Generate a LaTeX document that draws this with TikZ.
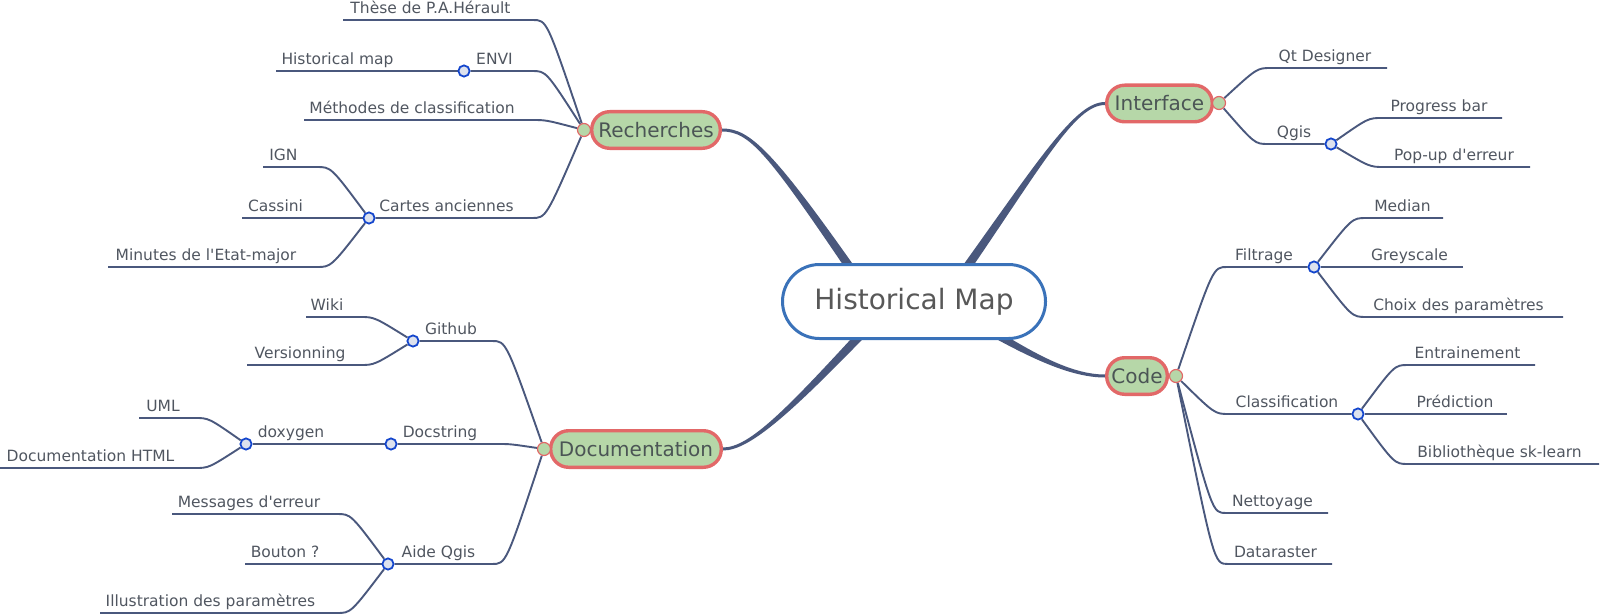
\documentclass[tikz,border=0pt]{standalone}
\usepackage{fontspec}
\setmainfont{DejaVu Sans}
\usetikzlibrary{calc,backgrounds}
\definecolor{lnc}{RGB}{74,88,125}
\definecolor{tbord}{RGB}{226,104,104}
\definecolor{tfill}{RGB}{182,215,168}
\definecolor{ttext}{RGB}{75,85,85}
\definecolor{cbord}{RGB}{58,114,185}
\definecolor{ctext}{RGB}{88,88,88}
\definecolor{ltext}{RGB}{80,86,96}
\definecolor{dbord}{RGB}{20,70,205}
\definecolor{dfill}{RGB}{221,226,238}
\tikzset{
  lbl/.style={font=\fontsize{7.75}{9}\selectfont, text=ltext, inner sep=0pt, anchor=base},
  topic/.style={draw=tbord, fill=tfill, line width=1.7pt, rounded corners=9pt, minimum height=18.3pt, inner sep=0pt, text=ttext, font=\fontsize{10}{12}\selectfont},
  rootbox/.style={draw=cbord, fill=white, line width=1.5pt, rounded corners=18.5pt, minimum width=131.5pt, minimum height=37pt, inner sep=0pt, text=ctext, font=\fontsize{14}{16}\selectfont},
  sdot/.style={circle, draw=dbord, fill=dfill, line width=0.9pt, minimum size=5.6pt, inner sep=0pt},
  tdot/.style={circle, draw=tbord, fill=tfill, line width=0.6pt, minimum size=6.5pt, inner sep=0pt},
  lnk/.style={draw=lnc, line width=0.95pt},
  sub/.style={to path={.. controls ($(\tikztostart)!0.27!(\tikztotarget|-\tikztostart)$) .. (\tikztotarget)}},
}
\begin{document}
\begin{tikzpicture}[x=0.5pt,y=-0.5pt]
\useasboundingbox (0,0) rectangle (1600,615);
% root and topics
\node[rootbox] (hm) at (914,301.5) {Historical Map};
\node[topic, minimum width=64.3pt] (rech) at (656,130) {Recherches};
\node[topic, minimum width=52.8pt] (int) at (1159.5,103.5) {Interface};
\node[topic, minimum width=30.3pt] (code) at (1137,376) {Code};
\node[topic, minimum width=85.3pt] (doc) at (636,449) {Documentation};
\node[tdot] (rdot) at (584,130) {};
\node[tdot] (ddot) at (544,449) {};
\node[tdot] (idot) at (1219,103) {};
\node[tdot] (kdot) at (1176,376) {};
% sub dots
\node[sdot] (envdot) at (464,71) {};
\node[sdot] (cdot) at (369,218) {};
\node[sdot] (gdot) at (413,341) {};
\node[sdot] (dsdot) at (391,444) {};
\node[sdot] (dxdot) at (246,444) {};
\node[sdot] (adot) at (388,564) {};
\node[sdot] (qdot) at (1331,144) {};
\node[sdot] (fdot) at (1314,267) {};
\node[sdot] (cldot) at (1358,414) {};
% labels: Recherches
\node[lbl] (tThese) at (430.5,13.5) {Thèse de P.A.Hérault};
\node[lbl] (tEnvi) at (494.5,64.5) {ENVI};
\node[lbl] (tHmap) at (337.5,64.5) {Historical map};
\node[lbl] (tMeth) at (412,113.5) {Méthodes de classification};
\node[lbl] (tCartes) at (446.5,211.5) {Cartes anciennes};
\node[lbl] (tIgn) at (283.5,160.5) {IGN};
\node[lbl] (tCassini) at (275.5,211.5) {Cassini};
\node[lbl] (tMinutes) at (206,260.5) {Minutes de l\textquotesingle Etat-major};
% labels: Documentation
\node[lbl] (tGithub) at (451,334.5) {Github};
\node[lbl] (tWiki) at (327,310.5) {Wiki};
\node[lbl] (tVers) at (300,358.5) {Versionning};
\node[lbl] (tDocstr) at (440,437.5) {Docstring};
\node[lbl] (tDoxy) at (291,437.5) {doxygen};
\node[lbl] (tUml) at (163,411.5) {UML};
\node[lbl] (tDochtml) at (90.5,461.5) {Documentation HTML};
\node[lbl] (tAide) at (438.5,557.5) {Aide Qgis};
\node[lbl] (tMsg) at (249,507.5) {Messages d\textquotesingle erreur};
\node[lbl] (tBouton) at (285,557.5) {Bouton ?};
\node[lbl] (tIllus) at (210.5,606.5) {Illustration des paramètres};
% labels: Interface
\node[lbl] (tQt) at (1325,61.5) {Qt Designer};
\node[lbl] (tQgis) at (1294,137.5) {Qgis};
\node[lbl] (tProg) at (1439,111.5) {Progress bar};
\node[lbl] (tPopup) at (1454,160.5) {Pop-up d\textquotesingle erreur};
% labels: Code
\node[lbl] (tFilt) at (1264,260.5) {Filtrage};
\node[lbl] (tMedian) at (1402.5,211.5) {Median};
\node[lbl] (tGrey) at (1409.5,260.5) {Greyscale};
\node[lbl] (tChoix) at (1458.5,310.5) {Choix des paramètres};
\node[lbl] (tClass) at (1287,407.5) {Classification};
\node[lbl] (tEntr) at (1467.5,358.5) {Entrainement};
\node[lbl] (tPred) at (1455,407.5) {Prédiction};
\node[lbl] (tBiblio) at (1499.5,457.5) {Bibliothèque sk-learn};
\node[lbl] (tNett) at (1272.5,506.5) {Nettoyage};
\node[lbl] (tData) at (1275.5,557.5) {Dataraster};
% line end points
\coordinate (theseL) at (343,20); \coordinate (theseR) at (533,20);
\coordinate (hmapL) at (276,71); \coordinate (enviR) at (532,71);
\coordinate (methL) at (304,120); \coordinate (methR) at (532,120);
\coordinate (cartesR) at (532,218);
\coordinate (ignL) at (263,167); \coordinate (ignR) at (317,167);
\coordinate (cassL) at (242,218);
\coordinate (minL) at (108,267); \coordinate (minR) at (317,267);
\coordinate (githubR) at (492,341);
\coordinate (wikiL) at (306,317); \coordinate (wikiR) at (360,317);
\coordinate (versL) at (247,365); \coordinate (versR) at (360,365);
\coordinate (docstrR) at (498,444);
\coordinate (umlL) at (139,418); \coordinate (umlR) at (195,418);
\coordinate (htmlL) at (0,468); \coordinate (htmlR) at (195,468);
\coordinate (aideR) at (492,564);
\coordinate (msgL) at (172,514); \coordinate (msgR) at (337,514);
\coordinate (boutL) at (245,564);
\coordinate (illL) at (100,613); \coordinate (illR) at (337,613);
\coordinate (qtL) at (1271,68); \coordinate (qtR) at (1387,68);
\coordinate (qgisL) at (1268,144);
\coordinate (progL) at (1382,118); \coordinate (progR) at (1502,118);
\coordinate (popL) at (1384,167); \coordinate (popR) at (1530,167);
\coordinate (filtL) at (1227,267);
\coordinate (medL) at (1366,218); \coordinate (medR) at (1443,218);
\coordinate (greyR) at (1463,267);
\coordinate (choixL) at (1366,317); \coordinate (choixR) at (1563,317);
\coordinate (classL) at (1229,414);
\coordinate (entrL) at (1408,365); \coordinate (entrR) at (1535,365);
\coordinate (predR) at (1507,414);
\coordinate (bibL) at (1408,464); \coordinate (bibR) at (1599,464);
\coordinate (nettL) at (1226,513); \coordinate (nettR) at (1328,513);
\coordinate (dataL) at (1228,564); \coordinate (dataR) at (1332,564);
\begin{scope}[on background layer]
% main tapered branches
\fill[lnc] ($(rech.east)+(0,1.5)$) .. controls ($(rech.east)+(28,1.5)$) and ($(rech.east)+(45.5,22.7)$) .. ($(hm.center)+(-55.7,-14)$) -- ($(hm.center)+(-48.3,-19)$) .. controls ($(rech.east)+(50.5,19.3)$) and ($(rech.east)+(28,-1.5)$) .. ($(rech.east)+(0,-1.5)$) -- cycle;
\fill[lnc] ($(int.west)+(0,-1.5)$) .. controls ($(int.west)+(-30,-1.5)$) and ($(int.west)+(-65.5,55.3)$) .. ($(hm.center)+(40.3,-24.1)$) -- ($(hm.center)+(47.7,-18.9)$) .. controls ($(int.west)+(-60.5,58.7)$) and ($(int.west)+(-30,1.5)$) .. ($(int.west)+(0,1.5)$) -- cycle;
\fill[lnc] ($(code.west)+(0,-1.5)$) .. controls ($(code.west)+(-35,-1.5)$) and ($(code.west)+(-73.5,-23.6)$) .. ($(hm.center)+(63.3,16.6)$) -- ($(hm.center)+(58.7,24.4)$) .. controls ($(code.west)+(-76.5,-18.4)$) and ($(code.west)+(-35,1.5)$) .. ($(code.west)+(0,1.5)$) -- cycle;
\fill[lnc] ($(doc.east)+(0,1.5)$) .. controls ($(doc.east)+(27,1.5)$) and ($(doc.east)+(69.2,-36.9)$) .. ($(hm.center)+(-40.7,26.6)$) -- ($(hm.center)+(-47.3,20.4)$) .. controls ($(doc.east)+(64.8,-41.1)$) and ($(doc.east)+(27,-1.5)$) .. ($(doc.east)+(0,-1.5)$) -- cycle;
% Recherches
\draw[lnk] (theseL) -- (theseR) to[sub] (rdot);
\draw[lnk] (hmapL) -- (envdot);
\draw[lnk] (envdot) -- (enviR) to[sub] (rdot);
\draw[lnk] (methL) -- (methR) to[sub] (rdot);
\draw[lnk] (cdot) -- (cartesR) to[sub] (rdot);
\draw[lnk] (ignL) -- (ignR) to[sub] (cdot);
\draw[lnk] (cassL) -- (cdot);
\draw[lnk] (minL) -- (minR) to[sub] (cdot);
% Documentation
\draw[lnk] (gdot) -- (githubR) to[sub] (ddot);
\draw[lnk] (wikiL) -- (wikiR) to[sub] (gdot);
\draw[lnk] (versL) -- (versR) to[sub] (gdot);
\draw[lnk] (dsdot) -- (docstrR) to[sub] (ddot);
\draw[lnk] (dxdot) -- (dsdot);
\draw[lnk] (umlL) -- (umlR) to[sub] (dxdot);
\draw[lnk] (htmlL) -- (htmlR) to[sub] (dxdot);
\draw[lnk] (adot) -- (aideR) to[sub] (ddot);
\draw[lnk] (msgL) -- (msgR) to[sub] (adot);
\draw[lnk] (boutL) -- (adot);
\draw[lnk] (illL) -- (illR) to[sub] (adot);
% Interface
\draw[lnk] (qtR) -- (qtL) to[sub] (idot);
\draw[lnk] (qdot) -- (qgisL) to[sub] (idot);
\draw[lnk] (progR) -- (progL) to[sub] (qdot);
\draw[lnk] (popR) -- (popL) to[sub] (qdot);
% Code
\draw[lnk] (fdot) -- (filtL) to[sub] (kdot);
\draw[lnk] (medR) -- (medL) to[sub] (fdot);
\draw[lnk] (greyR) -- (fdot);
\draw[lnk] (choixR) -- (choixL) to[sub] (fdot);
\draw[lnk] (cldot) -- (classL) to[sub] (kdot);
\draw[lnk] (entrR) -- (entrL) to[sub] (cldot);
\draw[lnk] (predR) -- (cldot);
\draw[lnk] (bibR) -- (bibL) to[sub] (cldot);
\draw[lnk] (nettR) -- (nettL) to[sub] (kdot);
\draw[lnk] (dataR) -- (dataL) to[sub] (kdot);
\end{scope}
\end{tikzpicture}
\end{document}
